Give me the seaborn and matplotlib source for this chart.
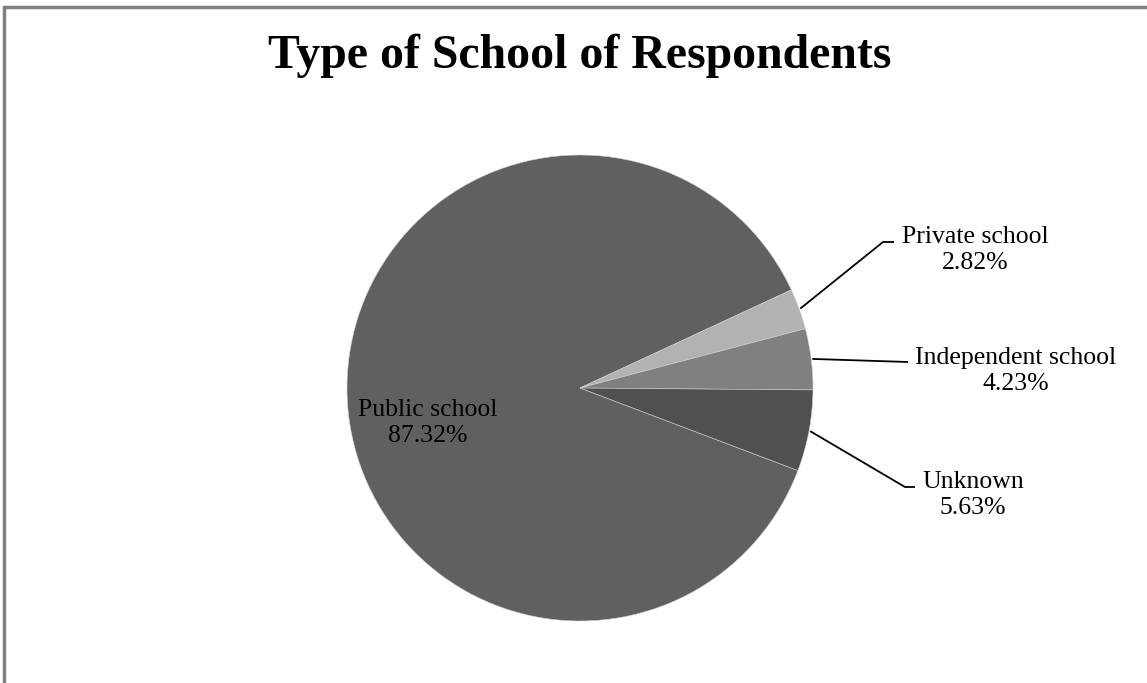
import numpy as np
import matplotlib
matplotlib.use("Agg")
import matplotlib.pyplot as plt
import seaborn as sns
from matplotlib.patches import Rectangle

categories = ["Public school", "Private school", "Independent school", "Unknown"]
shares = [87.32, 2.82, 4.23, 5.63]
pct_labels = ["87.32%", "2.82%", "4.23%", "5.63%"]
colors = ["#606060", "#b2b2b2", "#808080", "#505050"]

sns.set_theme(style="white")
plt.rcParams['font.family'] = ['Liberation Serif', 'DejaVu Serif']

W, H = 1147, 683
fig = plt.figure(figsize=(W / 100, H / 100), dpi=100)
ax = fig.add_axes([0, 0, 1, 1])

cx, cy, R = 580, H - 388, 233
wedges, _ = ax.pie(shares, colors=colors, startangle=-20.75, counterclock=False,
                   center=(cx, cy), radius=R, frame=True,
                   wedgeprops=dict(edgecolor="#d0d0d0", linewidth=0.4))
ax.set_xlim(0, W)
ax.set_ylim(0, H)
ax.set_aspect("equal")
ax.axis("off")

# figure border (extends beyond right/bottom edges as in reference)
fig.patches.append(Rectangle((3.5, -10), W + 10, H - 6.5 + 10, transform=None, fill=False,
                             edgecolor="#808080", linewidth=2.5))

ax.text(580, H - 56, "Type of School of Respondents", ha="center", va="center",
        fontsize=34.4, fontweight="bold", color="black")

fs = 18.5
ls = 1.2
ax.text(428, H - 423, f"{categories[0]}\n{pct_labels[0]}", ha="center", va="center",
        fontsize=fs, color="black", linespacing=ls)

label_pos = {1: (975, 250), 2: (1016, 371), 3: (973, 495)}
elbow = {1: ((883, 242), (894, 242)), 2: ((908, 362), (908, 362)), 3: ((905, 487), (915, 487))}
for i in (1, 2, 3):
    w = wedges[i]
    ang = np.deg2rad((w.theta1 + w.theta2) / 2)
    r0 = R * 1.005
    sx, sy = cx + r0 * np.cos(ang), cy + r0 * np.sin(ang)
    (ex, ey), (fx, fy) = elbow[i]
    ax.plot([sx, ex, fx], [sy, H - ey, H - fy], color="black", lw=1.3, solid_capstyle="butt")
    tx, ty = label_pos[i]
    ax.text(tx, H - ty, f"{categories[i]}\n{pct_labels[i]}", ha="center", va="center",
            fontsize=fs, color="black", linespacing=ls)

fig.savefig("out.png", dpi=100, facecolor="white")
